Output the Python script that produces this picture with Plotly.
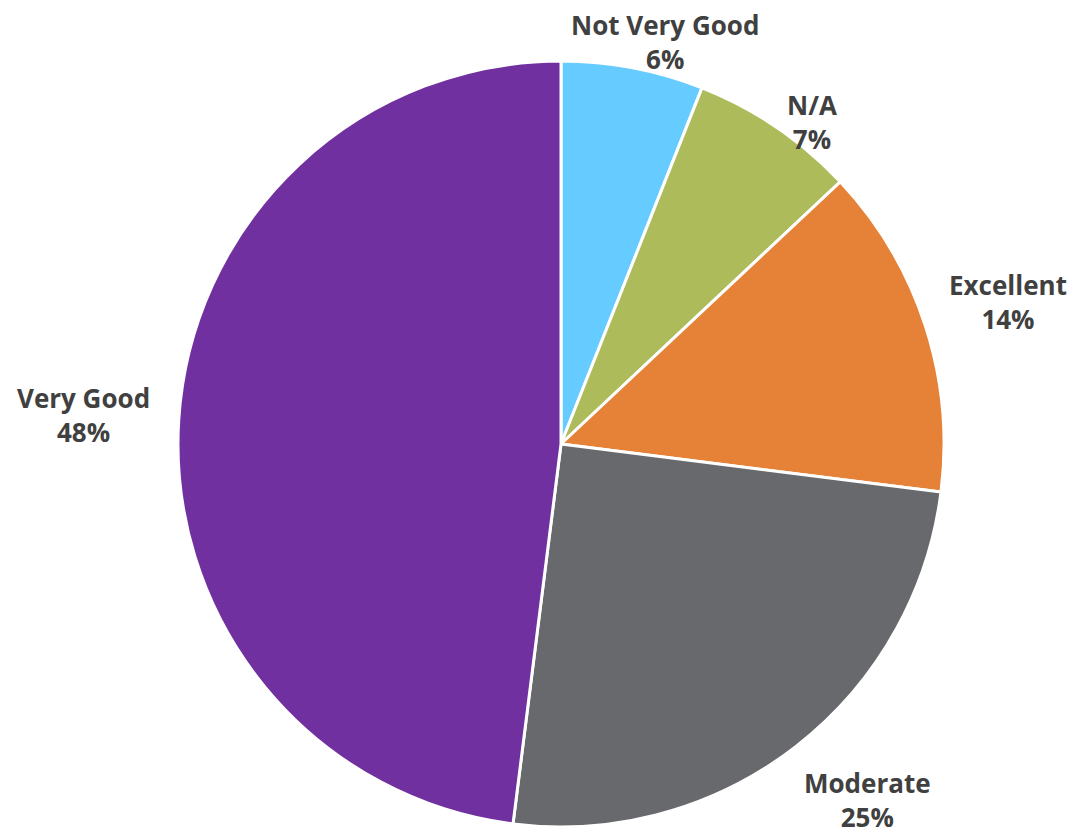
import math
import plotly.graph_objects as go

categories = ["Not Very Good", "N/A", "Excellent", "Moderate", "Very Good"]
values = [6, 7, 14, 25, 48]
colors = ["#66CCFF", "#AEBB5A", "#E68138", "#68696D", "#70309F"]

# page has an 8px body margin, so the figure is sized to fit the 1078x837 window
W, H = 1070, 829
L, R, T, B = 170, 134, 53, 10
FONT = "Open Sans"
FONT_SIZE = 26
CHAR_W = 0.56
LABEL_GAP = 30
BOX_H = 60
PAD_X, PAD_Y = 40, 20
EDGE = 4

fig = go.Figure(go.Pie(
    labels=categories,
    values=values,
    sort=False,
    direction="clockwise",
    rotation=0,
    marker=dict(colors=colors, line=dict(color="white", width=3)),
    textinfo="none",
    showlegend=False,
    hoverinfo="label+percent",
))

# Place labels outside slices, computed from the slice angles
pw, ph = W - L - R, H - T - B
cx, cy = L + pw / 2, T + ph / 2
radius = min(pw, ph) / 2
total = sum(values)
annotations = []
boxes = []
cum = 0
for cat, v in zip(categories, values):
    mid = (cum + v / 2) / total * 2 * math.pi
    cum += v
    s, c = math.sin(mid), math.cos(mid)
    pct = f"{round(v / total * 100)}%"
    w = max(len(cat), len(pct)) * CHAR_W * FONT_SIZE
    h = BOX_H
    rr = radius + LABEL_GAP
    px = cx + rr * s + math.copysign(min(1, 1.5 * abs(s)), s) * w / 2
    py = cy - rr * c - math.copysign(min(1, 1.5 * abs(c)), c) * h / 2
    # keep labels inside the figure
    py = min(max(py, h / 2 + EDGE), H - h / 2 - EDGE)
    px = min(max(px, w / 2 + EDGE), W - w / 2 - EDGE)
    # simple collision avoidance with earlier labels: push downward
    for (bx0, by0, bx1, by1) in boxes:
        if px - w / 2 < bx1 + PAD_X and px + w / 2 > bx0 - PAD_X and \
           py - h / 2 < by1 + PAD_Y and py + h / 2 > by0 - PAD_Y:
            py = by1 + PAD_Y + h / 2
    boxes.append((px - w / 2, py - h / 2, px + w / 2, py + h / 2))
    annotations.append(dict(
        x=(px - L) / pw, y=(H - B - py) / ph, xref="paper", yref="paper",
        text=f"<b>{cat}</b><br><b>{pct}</b>", showarrow=False,
        xanchor="center", yanchor="middle", align="center",
        font=dict(family=FONT, size=FONT_SIZE, color="#404040"),
    ))

fig.update_layout(
    width=W, height=H,
    margin=dict(l=L, r=R, t=T, b=B),
    paper_bgcolor="white",
    plot_bgcolor="white",
    annotations=annotations,
)

fig.write_html("out.html")
